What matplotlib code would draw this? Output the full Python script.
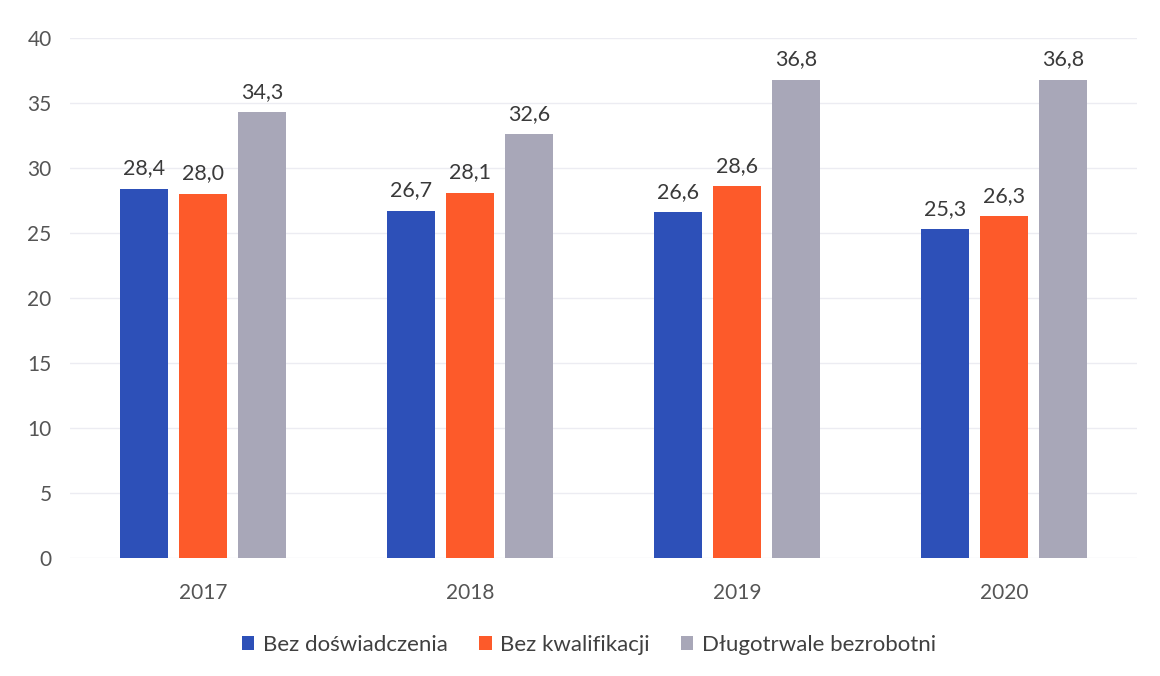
import numpy as np
import matplotlib.pyplot as plt

years = ['2017', '2018', '2019', '2020']
bez_dosw = [28.4, 26.7, 26.6, 25.3]
bez_kwal = [28.0, 28.1, 28.6, 26.3]
dlugo = [34.3, 32.6, 36.8, 36.8]
names = ['Bez doświadczenia', 'Bez kwalifikacji', 'Długotrwale bezrobotni']
colors = ['#2d50b8', '#fd5a2a', '#a8a7b8']

plt.rcParams['font.family'] = ['Lato', 'DejaVu Sans']

fig = plt.figure(figsize=(11.6, 6.76), dpi=100)
ax = fig.add_axes([0.06, 0.1746, 0.9206, 0.7692])

x = np.arange(len(years))
w = 0.18
off = 0.222
for i, (vals, name, c) in enumerate(zip([bez_dosw, bez_kwal, dlugo], names, colors)):
    bars = ax.bar(x + (i - 1) * off, vals, w, color=c, label=name, zorder=3)
    for b, v in zip(bars, vals):
        ax.text(b.get_x() + b.get_width() / 2, v + 0.8, f'{v:.1f}'.replace('.', ','),
                ha='center', va='bottom', fontsize=15.5, color='#3a3a3a')

ax.set_xlim(-0.5, 3.5)
ax.set_ylim(0, 40)
ax.set_yticks(range(0, 41, 5))
ax.set_xticks(x)
ax.set_xticklabels(years)
ax.grid(axis='y', color='#ececf2', linewidth=1, zorder=0)
for s in ax.spines.values():
    s.set_visible(False)
ax.tick_params(length=0, labelsize=15, labelcolor='#555555')
ax.tick_params(axis='y', pad=13)
ax.tick_params(axis='x', pad=18)

fig.legend(loc='center', bbox_to_anchor=(0.508, 0.046), ncol=3, frameon=False,
           fontsize=16, handlelength=0.55, handleheight=0.55, handletextpad=0.4,
           columnspacing=1.4, labelcolor='#404040')

fig.savefig('out.png', dpi=100)
